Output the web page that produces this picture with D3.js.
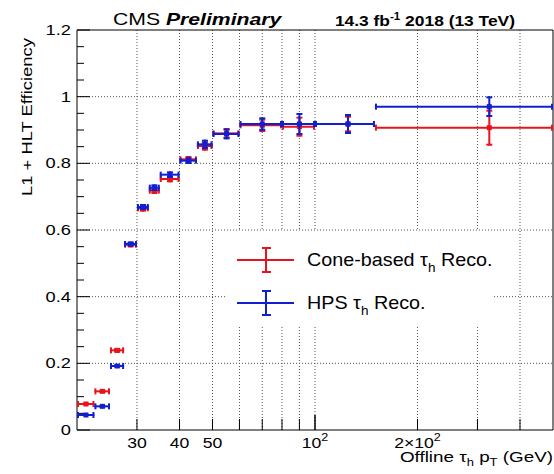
<!DOCTYPE html>
<html>
<head>
<meta charset="utf-8">
<script src="https://cdn.jsdelivr.net/npm/d3@7/dist/d3.min.js"></script>
<style>
  body { margin: 0; background: #fff; }
  svg { display: block; font-family: "Liberation Sans", Arial, sans-serif; }
</style>
</head>
<body>
<svg id="chart" width="554" height="474"></svg>
<script>
// bins in offline tau pT (GeV)
const binLo = [20, 22.5, 25, 27.5, 30, 32.5, 35, 40, 45, 50, 60, 80, 100, 150];
const binHi = [22.5, 25, 27.5, 30, 32.5, 35, 40, 45, 50, 60, 80, 100, 150, 500];

// cone-based reco (red)
const coneEff = [0.078, 0.116, 0.239, 0.556, 0.665, 0.718, 0.753, 0.812, 0.852, 0.890, 0.914, 0.910, 0.918, 0.907];
const coneErr = [0.004, 0.005, 0.007, 0.008, 0.010, 0.010, 0.010, 0.010, 0.014, 0.016, 0.020, 0.030, 0.025, 0.054];

// HPS reco (blue)
const hpsEff = [0.045, 0.071, 0.192, 0.558, 0.669, 0.727, 0.766, 0.808, 0.857, 0.888, 0.918, 0.918, 0.918, 0.970];
const hpsErr = [0.003, 0.004, 0.005, 0.007, 0.009, 0.010, 0.010, 0.010, 0.014, 0.016, 0.020, 0.033, 0.030, 0.031];

const yTicks = [0, 0.2, 0.4, 0.6, 0.8, 1, 1.2];
const xGrid = [30, 40, 50, 60, 70, 80, 90, 100, 200, 300, 400];
const xLabels = [30, 40, 50, 100, 200];

const margin = { top: 30, left: 77, right: 1, bottom: 44 };
const width = 554 - margin.left - margin.right;
const height = 474 - margin.top - margin.bottom;

// ROOT text is wider than Liberation Sans at the same height
const stretch = 1.26;

const svg = d3.select('#chart');
const chart = svg.append('g')
    .attr('transform', `translate(${margin.left},${margin.top})`);

const x = d3.scaleLog().domain([20, 500]).range([0, width]);
const y = d3.scaleLinear().domain([0, 1.2]).range([height, 0]);

// dotted grid
chart.append('g').selectAll('line')
    .data(yTicks.slice(1, -1))
    .join('line')
    .attr('x1', 0).attr('x2', width)
    .attr('y1', d => y(d)).attr('y2', d => y(d))
    .attr('stroke', '#555').attr('stroke-width', 1).attr('stroke-dasharray', '1,2');

chart.append('g').selectAll('line')
    .data(xGrid)
    .join('line')
    .attr('x1', d => x(d)).attr('x2', d => x(d))
    .attr('y1', 0).attr('y2', height)
    .attr('stroke', '#555').attr('stroke-width', 1).attr('stroke-dasharray', '1,2');

// y axis ticks (inside)
const yMinor = d3.range(0, 1.2001, 0.05);
chart.append('g').selectAll('line')
    .data(yMinor)
    .join('line')
    .attr('x1', 0)
    .attr('x2', d => Math.abs(d * 5 - Math.round(d * 5)) < 1e-6 ? 13 : 7)
    .attr('y1', d => y(d)).attr('y2', d => y(d))
    .attr('stroke', '#000');

chart.append('g').selectAll('text')
    .data(yTicks)
    .join('text')
    .attr('transform', d => `translate(-6,${y(d) + 5}) scale(${stretch},1)`)
    .attr('text-anchor', 'end')
    .attr('font-size', 14.5)
    .text(d => d3.format('~g')(d));

// x axis ticks (inside, from bottom)
chart.append('g').selectAll('line')
    .data(xGrid)
    .join('line')
    .attr('x1', d => x(d)).attr('x2', d => x(d))
    .attr('y1', height)
    .attr('y2', d => d === 100 ? height - 15 : height - 11)
    .attr('stroke', '#000')
    .attr('stroke-width', d => d === 100 ? 1.5 : 1);

const xl = chart.append('g').selectAll('text')
    .data(xLabels)
    .join('text')
    .attr('transform', d => `translate(${x(d)},${height + 18}) scale(${stretch},1)`)
    .attr('text-anchor', 'middle')
    .attr('font-size', 14);
xl.each(function (d) {
    const t = d3.select(this);
    if (d < 100) { t.text(d); return; }
    t.append('tspan').text(d === 100 ? '10' : '2\u00d710');
    t.append('tspan').attr('dy', -7).attr('font-size', 10).text('2');
});

// frame
chart.append('path')
    .attr('d', `M${width},0H0V${height}H${width}`)
    .attr('fill', 'none').attr('stroke', '#000');
chart.append('line')
    .attr('x1', width).attr('x2', width).attr('y1', 0).attr('y2', height)
    .attr('stroke', '#000');

// legend box (white, hides grid)
const lg = chart.append('g').attr('transform', `translate(${225 - margin.left},${231 - margin.top})`);
lg.append('rect').attr('width', 268).attr('height', 94).attr('fill', '#fff');

function drawSeries(eff, err, color) {
    const g = chart.append('g').attr('stroke', color).attr('fill', color).attr('stroke-width', 2);
    const idx = d3.range(eff.length);
    const xc = i => x((binLo[i] + binHi[i]) / 2);
    // horizontal bars with end caps
    g.selectAll('line.h').data(idx).join('line').attr('class', 'h')
        .attr('x1', i => x(binLo[i])).attr('x2', i => x(binHi[i]))
        .attr('y1', i => y(eff[i])).attr('y2', i => y(eff[i]));
    g.selectAll('line.hl').data(idx).join('line').attr('class', 'hl')
        .attr('x1', i => x(binLo[i]) + 1).attr('x2', i => x(binLo[i]) + 1)
        .attr('y1', i => y(eff[i]) - 3).attr('y2', i => y(eff[i]) + 3);
    g.selectAll('line.hr').data(idx).join('line').attr('class', 'hr')
        .attr('x1', i => x(binHi[i]) - 1).attr('x2', i => x(binHi[i]) - 1)
        .attr('y1', i => y(eff[i]) - 3).attr('y2', i => y(eff[i]) + 3);
    // vertical error bars with caps
    g.selectAll('line.v').data(idx).join('line').attr('class', 'v')
        .attr('x1', xc).attr('x2', xc)
        .attr('y1', i => y(eff[i] - err[i])).attr('y2', i => y(eff[i] + err[i]));
    g.selectAll('line.vt').data(idx).join('line').attr('class', 'vt')
        .attr('x1', i => xc(i) - 3).attr('x2', i => xc(i) + 3)
        .attr('y1', i => y(eff[i] + err[i]) + 1).attr('y2', i => y(eff[i] + err[i]) + 1);
    g.selectAll('line.vb').data(idx).join('line').attr('class', 'vb')
        .attr('x1', i => xc(i) - 3).attr('x2', i => xc(i) + 3)
        .attr('y1', i => y(eff[i] - err[i]) - 1).attr('y2', i => y(eff[i] - err[i]) - 1);
    // marker
    g.selectAll('rect').data(idx).join('rect')
        .attr('x', i => xc(i) - 2.5).attr('y', i => y(eff[i]) - 2.5)
        .attr('width', 5).attr('height', 5).attr('stroke', 'none');
}
drawSeries(coneEff, coneErr, '#e8141c');
drawSeries(hpsEff, hpsErr, '#1020d0');

// legend entries
const legendItems = [
    { color: '#e8141c', label: 'Cone-based ', tail: ' Reco.' },
    { color: '#1020d0', label: 'HPS ', tail: ' Reco.' }
];
legendItems.forEach((d, k) => {
    const ly = 29 + k * 43;
    const e = lg.append('g').attr('stroke', d.color).attr('stroke-width', 2);
    e.append('line').attr('x1', 12).attr('x2', 69).attr('y1', ly).attr('y2', ly);
    e.append('line').attr('x1', 41).attr('x2', 41).attr('y1', ly - 13).attr('y2', ly + 13);
    e.append('line').attr('x1', 37).attr('x2', 46).attr('y1', ly - 12).attr('y2', ly - 12);
    e.append('line').attr('x1', 37).attr('x2', 46).attr('y1', ly + 12).attr('y2', ly + 12);
    const t = lg.append('text').attr('transform', `translate(82,${ly + 6}) scale(1.04,1)`).attr('font-size', 19);
    t.append('tspan').text(d.label + '\u03c4');
    t.append('tspan').attr('dy', 6).attr('font-size', 13).text('h');
    t.append('tspan').attr('dy', -6).text(d.tail);
});

// header
const hd = svg.append('text')
    .attr('transform', `translate(113,25) scale(1.3,1)`)
    .attr('font-size', 16.3);
hd.append('tspan').text('CMS ');
hd.append('tspan').attr('font-weight', 'bold').attr('font-style', 'italic').text('Preliminary');

const lumi = svg.append('text')
    .attr('transform', `translate(515,26) scale(1.16,1)`)
    .attr('text-anchor', 'end').attr('font-size', 15).attr('font-weight', 'bold');
lumi.append('tspan').text('14.3 fb');
lumi.append('tspan').attr('dy', -6).attr('font-size', 10).text('-1');
lumi.append('tspan').attr('dy', 6).text(' 2018 (13 TeV)');

// axis titles
const xt = svg.append('text')
    .attr('transform', `translate(553,462) scale(1.3,1)`)
    .attr('text-anchor', 'end').attr('font-size', 14.5);
xt.append('tspan').text('Offline  \u03c4');
xt.append('tspan').attr('dy', 4).attr('font-size', 10).text('h');
xt.append('tspan').attr('dy', -4).text(' p');
xt.append('tspan').attr('dy', 4).attr('font-size', 10).text('T');
xt.append('tspan').attr('dy', -4).text(' (GeV)');

svg.append('text')
    .attr('transform', `translate(32,38) rotate(-90) scale(1.27,1)`)
    .attr('text-anchor', 'end')
    .attr('font-size', 14.5)
    .text('L1 + HLT Efficiency');
</script>
</body>
</html>
